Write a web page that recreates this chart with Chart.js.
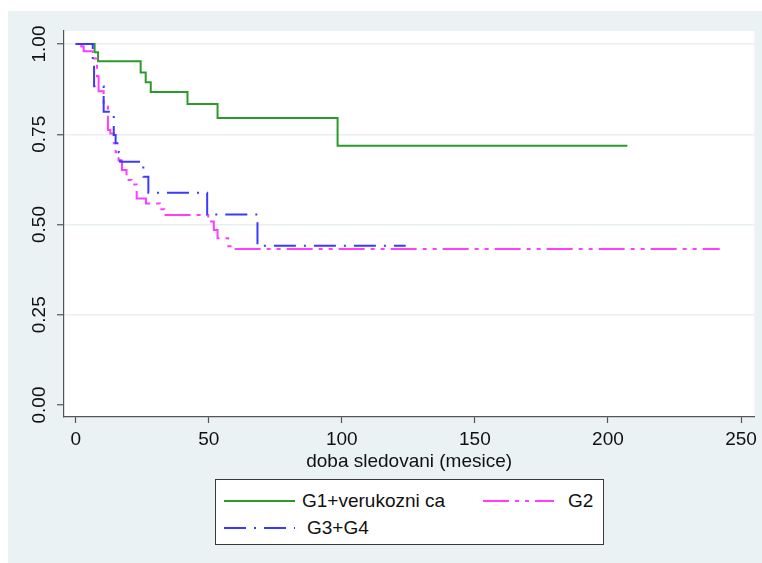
<!DOCTYPE html>
<html>
<head>
<meta charset="utf-8">
<script src="https://cdn.jsdelivr.net/npm/chart.js@4.4.1/dist/chart.umd.min.js"></script>
<style>
  html, body { margin: 0; padding: 0; background: #ffffff; }
  #wrap { position: relative; width: 762px; height: 563px; overflow: hidden; }
  #c { position: absolute; left: 0; top: 0; }
  #legend {
    position: absolute; left: 215px; top: 479px; width: 389px; height: 66px;
    box-sizing: border-box; border: 1px solid #3a3a3a; background: #ffffff;
    font-family: "Liberation Sans", Arial, sans-serif; font-size: 19px; color: #111;
  }
  .lg-sample { position: absolute; display: block; }
  .lg-text { position: absolute; height: 24px; line-height: 24px; white-space: nowrap; }
</style>
</head>
<body>
<div id="wrap">
  <canvas id="c" width="762" height="563"></canvas>
  <div id="legend"></div>
</div>
<script>
// ---------- data ----------
const seriesNames = ['G1+verukozni ca', 'G2', 'G3+G4'];

// G1+verukozni ca : Kaplan-Meier steps (time in months, survival)
const g1Times = [0, 7.1, 8.4, 24.4, 26.3, 28.2, 42.0, 53.3, 98.4, 207.3];
const g1Surv  = [1.0, 0.977, 0.952, 0.921, 0.894, 0.867, 0.834, 0.795, 0.718, 0.718];

// G2
const g2Times = [0, 2.1, 3.0, 6.4, 8.0, 8.6, 10.5, 12.1, 13.0, 14.3, 15.0, 16.1, 17.4, 19.1, 21.0, 22.9, 26.4, 31.6, 33.3, 49.8, 51.9, 53.3, 57.3, 59.0, 242.0];
const g2Surv  = [1.0, 0.993, 0.980, 0.960, 0.911, 0.869, 0.831, 0.762, 0.752, 0.725, 0.700, 0.677, 0.651, 0.623, 0.611, 0.572, 0.558, 0.542, 0.526, 0.508, 0.485, 0.462, 0.440, 0.432, 0.432];

// G3+G4
const g34Times = [0, 6.4, 6.9, 10.5, 14.3, 15.0, 16.2, 16.7, 25.4, 27.3, 49.4, 68.3, 124.0];
const g34Surv  = [1.0, 0.941, 0.883, 0.812, 0.748, 0.725, 0.700, 0.674, 0.632, 0.588, 0.528, 0.441, 0.441];

const xTickValues = [0, 50, 100, 150, 200, 250];
const yTickValues = [0, 0.25, 0.5, 0.75, 1];
const xAxisTitle = 'doba sledovani (mesice)';

// ---------- helpers ----------
function toPoints(times, surv) { return times.map((t, i) => ({ x: t, y: surv[i] })); }

const FONT = '"Liberation Sans", Arial, sans-serif';

const backgroundPlugin = {
  id: 'stataBackground',
  beforeDraw(chart) {
    const ctx = chart.ctx, a = chart.chartArea;
    ctx.save();
    ctx.fillStyle = '#ffffff';
    ctx.fillRect(0, 0, chart.width, chart.height);
    ctx.fillStyle = '#eaf2f3';
    ctx.fillRect(8, 11, chart.width - 8, chart.height - 11);
    ctx.fillStyle = '#ffffff';
    ctx.fillRect(a.left, a.top, a.right - a.left, a.bottom - a.top);
    ctx.restore();
  }
};

const chart = new Chart(document.getElementById('c'), {
  type: 'line',
  data: {
    datasets: [
      { label: seriesNames[0], data: toPoints(g1Times, g1Surv), borderColor: '#2a9a2a', borderWidth: 2, borderDash: [], order: 3 },
      { label: seriesNames[1], data: toPoints(g2Times, g2Surv), borderColor: '#ff3cff', borderWidth: 2, borderDash: [26, 6, 4, 6, 4, 6], order: 2 },
      { label: seriesNames[2], data: toPoints(g34Times, g34Surv), borderColor: '#3a3aff', borderWidth: 2, borderDash: [22, 8, 2, 8], order: 1 }
    ].map(d => Object.assign(d, {
      stepped: 'before', pointRadius: 0, pointHoverRadius: 0, fill: false, tension: 0,
      borderCapStyle: 'butt', borderJoinStyle: 'miter'
    }))
  },
  options: {
    responsive: false,
    animation: false,
    events: [],
    layout: { padding: { left: 8, top: 31, right: 7, bottom: 86 } },
    plugins: {
      legend: { display: false },
      tooltip: { enabled: false },
      title: { display: false }
    },
    scales: {
      x: {
        type: 'linear',
        min: -4.4,
        max: 255,
        afterBuildTicks(scale) { scale.ticks = xTickValues.map(v => ({ value: v })); },
        afterFit(scale) { scale.height = 60; },
        ticks: {
          autoSkip: false, maxRotation: 0, minRotation: 0, padding: 5,
          color: '#111', font: { family: FONT, size: 19 },
          callback: v => String(v)
        },
        grid: { drawOnChartArea: false, drawTicks: true, tickLength: 6, tickColor: '#555', tickWidth: 1.2 },
        border: { display: true, color: '#555', width: 1.2 },
        title: {
          display: true, text: xAxisTitle, color: '#111',
          font: { family: FONT, size: 19 }, padding: { top: 0, bottom: 4 }
        }
      },
      y: {
        type: 'linear',
        min: -0.0332,
        max: 1.036,
        afterBuildTicks(scale) { scale.ticks = yTickValues.map(v => ({ value: v })); },
        afterFit(scale) { scale.width = 56; },
        ticks: {
          autoSkip: false, minRotation: 90, maxRotation: 90, crossAlign: 'center', padding: -1.5,
          color: '#111', font: { family: FONT, size: 19 },
          callback: v => Number(v).toFixed(2)
        },
        grid: {
          drawOnChartArea: true, drawTicks: true, tickLength: 7, tickColor: '#555', tickWidth: 1.2,
          lineWidth: 1.5,
          color: ctx => (ctx.tick && ctx.tick.value === 0) ? 'rgba(0,0,0,0)' : '#e7eff2'
        },
        border: { display: true, color: '#555', width: 1.2 }
      }
    }
  },
  plugins: [backgroundPlugin]
});

// ---------- legend (built from the chart's datasets) ----------
(function buildLegend() {
  const box = document.getElementById('legend');
  // positions inside the legend frame: [sampleLeft, textLeft, centerY]
  const slots = [[8, 86, 21], [267, 352, 21], [8, 91, 48]];
  chart.data.datasets.forEach((ds, i) => {
    const [sx, tx, cy] = slots[i];
    const svgNS = 'http://www.w3.org/2000/svg';
    const svg = document.createElementNS(svgNS, 'svg');
    svg.setAttribute('width', '72'); svg.setAttribute('height', '6');
    svg.setAttribute('class', 'lg-sample');
    svg.style.left = sx + 'px'; svg.style.top = (cy - 3) + 'px';
    const ln = document.createElementNS(svgNS, 'line');
    ln.setAttribute('x1', '0'); ln.setAttribute('y1', '3');
    ln.setAttribute('x2', '71'); ln.setAttribute('y2', '3');
    ln.setAttribute('stroke', ds.borderColor);
    ln.setAttribute('stroke-width', ds.borderWidth);
    if (ds.borderDash && ds.borderDash.length) ln.setAttribute('stroke-dasharray', ds.borderDash.join(' '));
    svg.appendChild(ln);
    box.appendChild(svg);
    const span = document.createElement('span');
    span.className = 'lg-text';
    span.textContent = ds.label;
    span.style.left = tx + 'px'; span.style.top = (cy - 12) + 'px';
    box.appendChild(span);
  });
})();
</script>
</body>
</html>
